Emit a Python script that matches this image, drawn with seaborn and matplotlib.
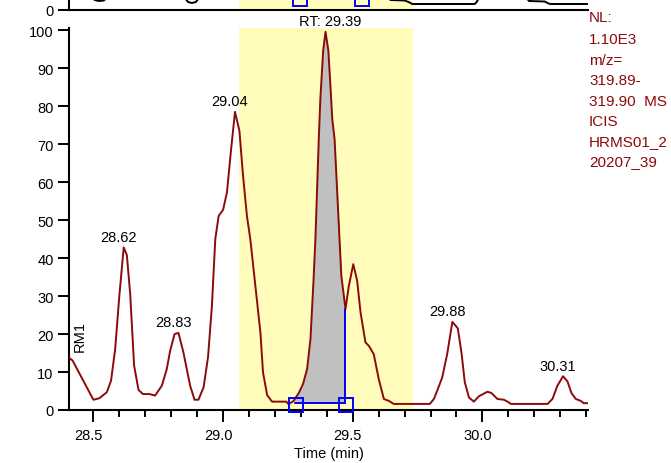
import numpy as np
import pandas as pd
import matplotlib
matplotlib.use("Agg")
import matplotlib.pyplot as plt
from matplotlib.transforms import ScaledTranslation
import seaborn as sns

# ---------------- data ----------------
times = [28.404, 28.420, 28.500, 28.523, 28.552, 28.568, 28.584, 28.600, 28.617, 28.629,
         28.642, 28.657, 28.674, 28.691, 28.716, 28.738, 28.764, 28.783, 28.796, 28.813,
         28.828, 28.847, 28.873, 28.890, 28.905, 28.925, 28.942, 28.957, 28.970, 28.983,
         29.000, 29.015, 29.031, 29.046, 29.063, 29.077, 29.092, 29.105, 29.144, 29.154,
         29.170, 29.189, 29.244, 29.253, 29.272, 29.292, 29.308, 29.324, 29.337, 29.349,
         29.356, 29.369, 29.375, 29.386, 29.395, 29.406, 29.414, 29.421, 29.430, 29.449,
         29.456, 29.472, 29.485, 29.502, 29.517, 29.530, 29.549, 29.562, 29.581, 29.600,
         29.620, 29.639, 29.658, 29.797, 29.813, 29.828, 29.845, 29.864, 29.884, 29.905,
         29.919, 29.932, 29.948, 29.967, 29.986, 30.019, 30.034, 30.058, 30.083, 30.102,
         30.109, 30.251, 30.270, 30.289, 30.311, 30.328, 30.343, 30.360, 30.379, 30.390,
         30.411]
intensity = [13.9, 13.0, 2.7, 3.1, 4.7, 7.7, 16.0, 30.0, 42.8, 40.8,
             30.5, 11.7, 5.3, 4.2, 4.2, 3.8, 6.4, 10.8, 15.6, 20.0,
             20.3, 15.2, 6.4, 2.7, 2.7, 6.0, 13.9, 27.4, 45.0, 51.1,
             52.7, 57.3, 68.7, 78.5, 73.5, 61.7, 51.1, 45.0, 20.4, 9.9,
             3.9, 2.2, 2.2, 1.5, 2.4, 4.5, 6.8, 10.8, 18.7, 34.5,
             45.0, 71.3, 81.8, 94.6, 99.6, 94.6, 85.3, 76.6, 71.3, 45.0,
             35.3, 26.6, 32.7, 38.4, 34.0, 25.7, 17.8, 16.9, 14.7, 8.2,
             2.9, 2.4, 1.6, 1.6, 2.9, 5.5, 8.6, 14.7, 23.2, 21.5,
             15.2, 7.3, 3.3, 2.2, 3.6, 4.8, 4.5, 2.9, 2.7, 2.0,
             1.6, 1.6, 2.9, 6.4, 8.9, 7.5, 4.5, 2.9, 2.4, 1.8,
             1.8]

peak_rts = [28.62, 28.83, 29.04, 29.39, 29.88, 30.31]
peak_labels = ["28.62", "28.83", "29.04", "RT: 29.39", "29.88", "30.31"]

# integration window / detected peak
range_start, range_end = 29.063, 29.733
peak_start, peak_end = 29.277, 29.472
baseline_level = 1.76
box_times = [29.282, 29.475]
box_levels = [1.4, 1.4]

# upper (cut-off) chromatogram, only its lowest part is visible
top_times = [28.406, 28.47, 28.49, 28.505, 28.52, 28.54, 28.555, 28.58, 28.83, 28.85,
             28.865, 28.88, 28.895, 28.91, 28.93, 29.60, 29.63, 29.646, 29.70, 29.715,
             29.73, 29.97, 29.978, 29.986, 30.00, 30.15, 30.17, 30.18, 30.24, 30.255,
             30.263, 30.407]
top_values = [40, 30, 14, 10, 9, 9.5, 13, 40, 40, 13,
              8, 7, 8, 13, 40, 40, 13, 10, 9.5, 8,
              6, 6, 8, 12, 40, 40, 12, 9, 8.5, 6.5,
              6, 6]
top_box_times = [29.297, 29.537]
top_box_levels = [11.5, 11.5]

x_major = [28.5, 29.0, 29.5, 30.0]
x_major_labels = ["28.5", "29.0", "29.5", "30.0"]
x_minor = [28.6, 28.7, 28.8, 28.9, 29.1, 29.2, 29.3, 29.4, 29.6, 29.7, 29.8, 29.9, 30.1, 30.2, 30.3, 30.4]
y_ticks = [0, 10, 20, 30, 40, 50, 60, 70, 80, 90, 100]

info_lines = ["NL:", "1.10E3", "m/z=", "319.89-", "319.90  MS", "ICIS", "HRMS01_2", "20207_39"]

# ---------------- style ----------------
sns.set_theme(style="ticks")
plt.rcParams["font.family"] = ["Liberation Sans", "DejaVu Sans"]
plt.rcParams["axes.edgecolor"] = "black"
plt.rcParams["xtick.color"] = "black"
plt.rcParams["ytick.color"] = "black"

RED = "#8B0A0A"
BLUE = "#0000FF"
YELLOW = "#FFFCBC"
GRAY = "#C0C0C0"
FS = 10.5

W, H = 671, 464
fig = plt.figure(figsize=(W / 100, H / 100), dpi=100)
fig.patch.set_facecolor("white")

XL = (28.406, 30.407)

# ---------------- main axes ----------------
ax = fig.add_axes([69 / W, 1 - 411 / H, (588 - 69) / W, (411 - 29.3) / H])
ax.set_facecolor("white")
ax.axvspan(range_start, range_end, color=YELLOW, lw=0, zorder=0)

df = pd.DataFrame({"time": times, "intensity": intensity})
seg = df[(df["time"] >= 29.265) & (df["time"] <= peak_end)]
ax.fill_between(seg["time"], baseline_level, seg["intensity"],
                where=seg["intensity"] >= baseline_level, interpolate=True,
                color=GRAY, lw=0, zorder=1)

sns.lineplot(data=df, x="time", y="intensity", ax=ax, color=RED, lw=1.4,
             estimator=None, sort=False, zorder=3)

# detected-peak markers
peak_end_val = float(np.interp(peak_end, times, intensity))
ax.plot([peak_start, peak_end], [baseline_level, baseline_level], color=BLUE, lw=1.4, zorder=4)
ax.plot([peak_end, peak_end], [baseline_level, peak_end_val], color=BLUE, lw=1.4, zorder=4)
ax.plot(box_times, box_levels, ls="none", marker="s", ms=10, mfc="none", mec=BLUE, mew=1.4,
        zorder=5, clip_on=False)

# peak labels
t_arr = np.array(times)
i_arr = np.array(intensity)
for rt, lab in zip(peak_rts, peak_labels):
    m = np.abs(t_arr - rt) < 0.03
    k = np.argmax(np.where(m, i_arr, -1))
    dx = 3.6 if lab.startswith("RT") else -3.6
    ax.annotate(lab, (t_arr[k], i_arr[k]), xytext=(dx, 2.5), textcoords="offset points",
                ha="center", va="bottom", fontsize=FS, color="black", annotation_clip=False)

ax.text(28.449, 19.7, "RM1", rotation=90, ha="center", va="center", fontsize=FS, color="black")

ax.set_xlim(*XL)
ax.set_ylim(0, 100.5)
ax.set_xticks(x_major)
ax.set_xticklabels(x_major_labels)
ax.set_xticks(x_minor, minor=True)
ax.set_yticks(y_ticks)
ax.set_yticklabels([str(v) for v in y_ticks])
ax.tick_params(axis="x", which="major", length=8.6, width=1.4, pad=4.5, labelsize=FS)
ax.tick_params(axis="x", which="minor", length=5, width=1.4)
ax.tick_params(axis="y", which="major", length=8, width=1.4, pad=3, labelsize=FS)
for sp in ["top", "right"]:
    ax.spines[sp].set_visible(False)
for sp in ["left", "bottom"]:
    ax.spines[sp].set_linewidth(1.5)
    ax.spines[sp].set_color("black")
ax.set_xlabel("Time (min)", fontsize=FS, labelpad=3, color="black")
ax.set_ylabel("")
shift = ScaledTranslation(-5 / 100, 0, fig.dpi_scale_trans)
for lab in ax.get_xticklabels():
    lab.set_transform(lab.get_transform() + shift)

# ---------------- upper (cut-off) axes ----------------
axt = fig.add_axes([69 / W, 1 - 11 / H, (588 - 69) / W, 60 / H])
axt.set_facecolor("none")
axt.axvspan(range_start, range_end, color=YELLOW, lw=0, zorder=0)
tdf = pd.DataFrame({"time": top_times, "intensity": top_values})
sns.lineplot(data=tdf, x="time", y="intensity", ax=axt, color="black", lw=1.4,
             estimator=None, sort=False, zorder=3)
axt.plot(top_box_times, top_box_levels, ls="none", marker="s", ms=10, mfc="none", mec=BLUE,
         mew=1.4, zorder=5)
axt.set_xlim(*XL)
axt.set_ylim(0, 60)
axt.set_xticks([])
axt.set_yticks([0])
axt.set_yticklabels(["0"])
axt.tick_params(axis="y", length=8, width=1.4, pad=3, labelsize=FS)
axt.set_xlabel("")
axt.set_ylabel("")
for sp in ["top", "right"]:
    axt.spines[sp].set_visible(False)
for sp in ["left", "bottom"]:
    axt.spines[sp].set_linewidth(1.5)
    axt.spines[sp].set_color("black")

# ---------------- right-hand info text ----------------
line_y = [18.3, 40, 61, 81, 101.7, 121.7, 141.7, 162.3]
for txt, yc in zip(info_lines, line_y):
    fig.text(589 / W, 1 - yc / H, txt, ha="left", va="center", fontsize=11, color=RED)

fig.savefig("out.png", dpi=100)
